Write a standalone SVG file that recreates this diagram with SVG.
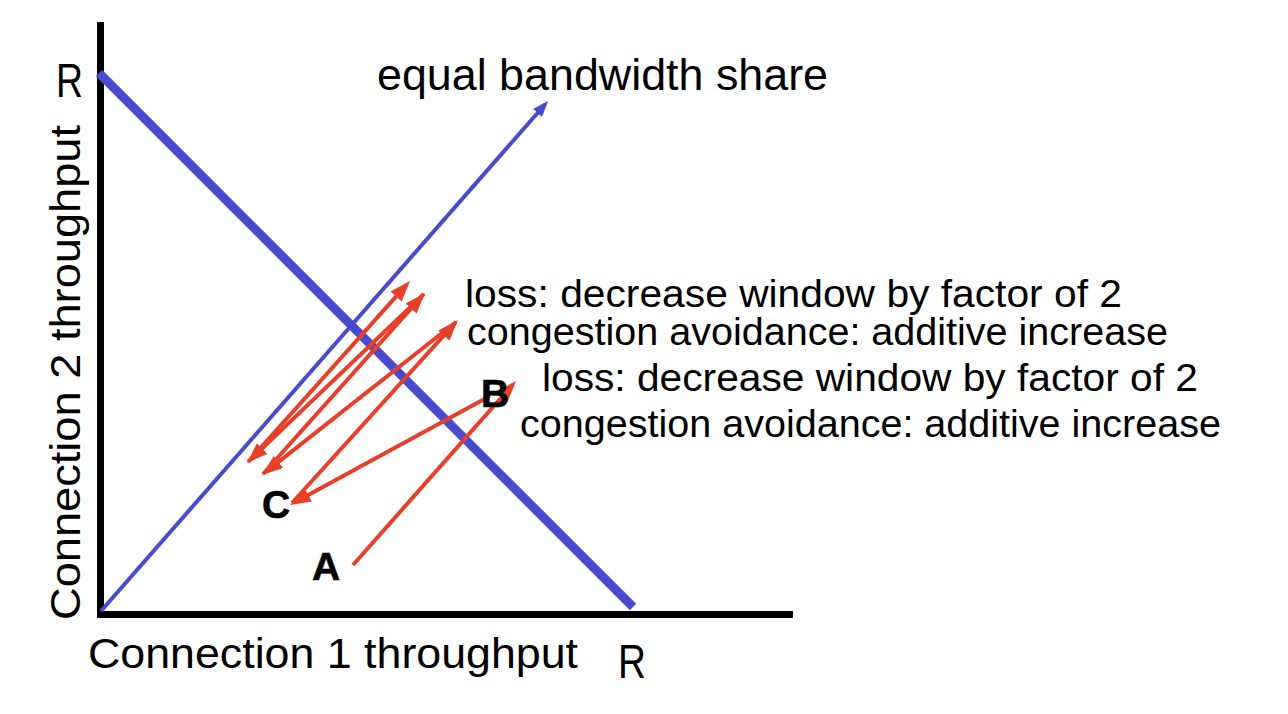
<svg xmlns="http://www.w3.org/2000/svg" width="1288" height="714" viewBox="0 0 1288 714">
<style>
.lbl{font-family:"Liberation Sans","Open Sans",sans-serif;fill:#000;}
.pt{font-family:"Liberation Sans",Arial,sans-serif;font-weight:bold;font-size:39px;fill:#000;stroke:#000;stroke-width:0.6;}
.red{stroke:#E84028;stroke-width:4;fill:none;marker-end:url(#ra);}
.axis{stroke:#000;stroke-width:7;fill:none;}
</style>
<defs>
<marker id="ra" markerUnits="userSpaceOnUse" markerWidth="21" markerHeight="15" refX="16" refY="7.5" orient="auto">
<path d="M0,0 L21,7.5 L0,15 z" fill="#E84028"/>
</marker>
<marker id="ba" markerUnits="userSpaceOnUse" markerWidth="16" markerHeight="12" refX="12" refY="6" orient="auto">
<path d="M0,0 L16,6 L0,12 z" fill="#484CCC"/>
</marker>
</defs>
<rect width="1288" height="714" fill="#fff"/>
<g id="axes">
<line class="axis" x1="100.5" y1="22" x2="100.5" y2="618"/>
<line class="axis" x1="97" y1="614.5" x2="793" y2="614.5"/>
</g>
<g id="capacity-line">
<line x1="99" y1="73" x2="633" y2="607" stroke="#484CCC" stroke-width="9"/>
</g>
<g id="equal-share-line">
<line x1="101" y1="611" x2="545.4" y2="104" stroke="#484CCC" stroke-width="4" marker-end="url(#ba)"/>
</g>
<g id="connectors">
<line class="red" x1="353" y1="565" x2="512.7" y2="384.7"/>
<line class="red" x1="490" y1="396" x2="294.4" y2="502.6"/>
<line class="red" x1="292" y1="503" x2="454.6" y2="323.7"/>
<line class="red" x1="456" y1="322" x2="265.9" y2="471.9"/>
<line class="red" x1="263" y1="474" x2="421.7" y2="296.7"/>
<line class="red" x1="424" y1="294" x2="250.6" y2="459.5"/>
<line class="red" x1="248" y1="462" x2="406.7" y2="284.7"/>
</g>
<g id="node-A"><text class="pt" x="312" y="580">A</text></g>
<g id="node-B"><text class="pt" x="481" y="407">B</text></g>
<g id="node-C"><text class="pt" x="262" y="518">C</text></g>
<g id="title"><text class="lbl" x="377" y="90" font-size="44" textLength="451" lengthAdjust="spacingAndGlyphs">equal bandwidth share</text></g>
<g id="notes1">
<text class="lbl" x="465" y="307" font-size="38" textLength="657" lengthAdjust="spacingAndGlyphs">loss: decrease window by factor of 2</text>
<text class="lbl" x="467" y="345" font-size="38" textLength="701" lengthAdjust="spacingAndGlyphs">congestion avoidance: additive increase</text>
</g>
<g id="notes2">
<text class="lbl" x="542" y="391" font-size="38" textLength="656" lengthAdjust="spacingAndGlyphs">loss: decrease window by factor of 2</text>
<text class="lbl" x="520" y="437" font-size="38" textLength="701" lengthAdjust="spacingAndGlyphs">congestion avoidance: additive increase</text>
</g>
<g id="x-label">
<text class="lbl" x="88" y="668" font-size="42" textLength="490" lengthAdjust="spacingAndGlyphs">Connection 1 throughput</text>
<text class="lbl" x="618" y="678" font-size="49" textLength="28" lengthAdjust="spacingAndGlyphs">R</text>
</g>
<g id="y-label">
<text class="lbl" transform="translate(80,620) rotate(-90)" x="0" y="0" font-size="42" textLength="495" lengthAdjust="spacingAndGlyphs">Connection 2 throughput</text>
<text class="lbl" x="56" y="97" font-size="49" textLength="27" lengthAdjust="spacingAndGlyphs">R</text>
</g>
</svg>
